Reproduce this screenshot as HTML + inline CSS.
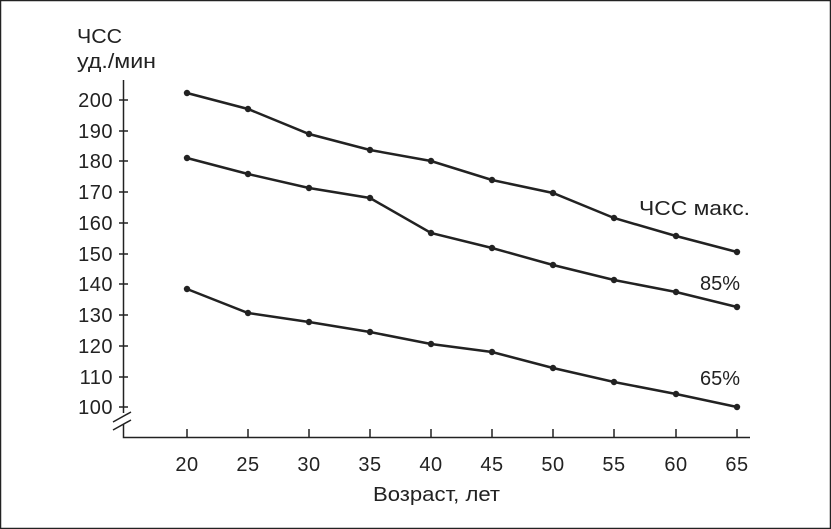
<!DOCTYPE html>
<html><head><meta charset="utf-8"><style>body{margin:0;background:#fff}svg{display:block}text{font-family:"Liberation Sans",sans-serif;fill:#222}</style></head><body>
<svg width="831" height="529" viewBox="0 0 831 529">
<rect x="0.5" y="0.5" width="830" height="528" fill="#fff" stroke="#222" stroke-width="1.5"/>
<g stroke="#222" stroke-width="1.5" fill="none">
<path d="M123.5 80V413M123.5 424V437.5H750"/>
<path d="M113 422L131 412M113 430L131 420"/>
</g>
<g stroke="#222" stroke-width="1.5">
<path d="M119 100H128M119 131H128M119 161H128M119 192H128M119 223H128M119 254H128M119 284H128M119 315H128M119 346H128M119 377H128M119 407H128"/>
<path d="M187 437V429M248 437V429M309 437V429M370 437V429M431 437V429M492 437V429M553 437V429M614 437V429M676 437V429M737 437V429"/>
</g>
<g font-size="20" text-anchor="end" letter-spacing="0.5">
<text x="113" y="107">200</text><text x="113" y="138">190</text><text x="113" y="168">180</text><text x="113" y="199">170</text><text x="113" y="230">160</text><text x="113" y="261">150</text><text x="113" y="291">140</text><text x="113" y="322">130</text><text x="113" y="353">120</text><text x="113" y="384">110</text><text x="113" y="414">100</text>
</g>
<text x="77" y="43" font-size="20" textLength="45" lengthAdjust="spacingAndGlyphs">ЧСС</text>
<text x="77" y="68" font-size="20" textLength="79" lengthAdjust="spacingAndGlyphs">уд./мин</text>
<g font-size="20" text-anchor="middle" letter-spacing="0.5">
<text x="187" y="471">20</text><text x="248" y="471">25</text><text x="309" y="471">30</text><text x="370" y="471">35</text><text x="431" y="471">40</text><text x="492" y="471">45</text><text x="553" y="471">50</text><text x="614" y="471">55</text><text x="676" y="471">60</text><text x="737" y="471">65</text>
</g>
<text x="373" y="501" font-size="20" textLength="127" lengthAdjust="spacingAndGlyphs">Возраст, лет</text>
<text x="639" y="215" font-size="20" textLength="111" lengthAdjust="spacingAndGlyphs">ЧСС макс.</text>
<text x="700" y="290" font-size="20">85%</text>
<text x="700" y="385" font-size="20">65%</text>
<g stroke="#222" stroke-width="2.5" fill="none">
<polyline points="187,93 248,109 309,134 370,150 431,161 492,180 553,193 614,218 676,236 737,252"/>
<polyline points="187,158 248,174 309,188 370,198 431,233 492,248 553,265 614,280 676,292 737,307"/>
<polyline points="187,289 248,313 309,322 370,332 431,344 492,352 553,368 614,382 676,394 737,407"/>
</g>
<g fill="#222">
<circle cx="187" cy="93" r="3.2"/><circle cx="248" cy="109" r="3.2"/><circle cx="309" cy="134" r="3.2"/><circle cx="370" cy="150" r="3.2"/><circle cx="431" cy="161" r="3.2"/><circle cx="492" cy="180" r="3.2"/><circle cx="553" cy="193" r="3.2"/><circle cx="614" cy="218" r="3.2"/><circle cx="676" cy="236" r="3.2"/><circle cx="737" cy="252" r="3.2"/>
<circle cx="187" cy="158" r="3.2"/><circle cx="248" cy="174" r="3.2"/><circle cx="309" cy="188" r="3.2"/><circle cx="370" cy="198" r="3.2"/><circle cx="431" cy="233" r="3.2"/><circle cx="492" cy="248" r="3.2"/><circle cx="553" cy="265" r="3.2"/><circle cx="614" cy="280" r="3.2"/><circle cx="676" cy="292" r="3.2"/><circle cx="737" cy="307" r="3.2"/>
<circle cx="187" cy="289" r="3.2"/><circle cx="248" cy="313" r="3.2"/><circle cx="309" cy="322" r="3.2"/><circle cx="370" cy="332" r="3.2"/><circle cx="431" cy="344" r="3.2"/><circle cx="492" cy="352" r="3.2"/><circle cx="553" cy="368" r="3.2"/><circle cx="614" cy="382" r="3.2"/><circle cx="676" cy="394" r="3.2"/><circle cx="737" cy="407" r="3.2"/>
</g>
</svg>
</body></html>
